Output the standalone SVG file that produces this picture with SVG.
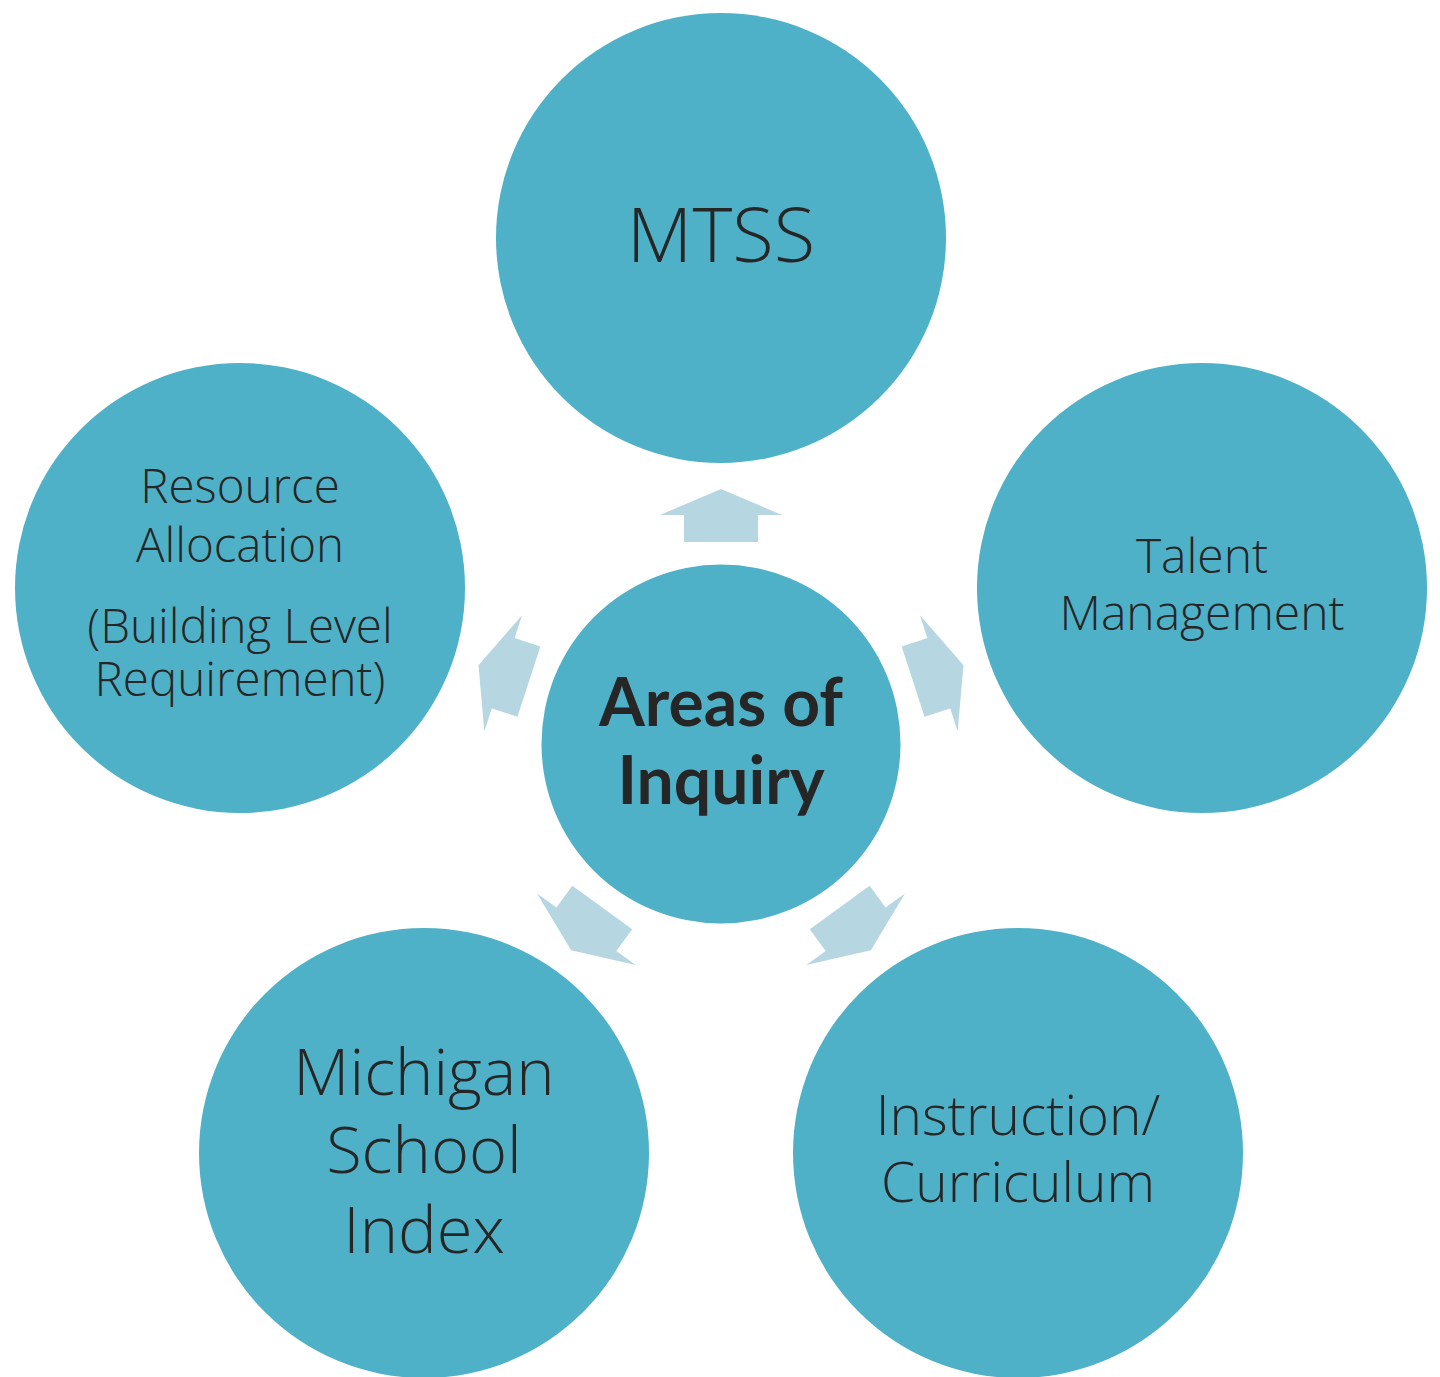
<svg xmlns="http://www.w3.org/2000/svg" width="1440" height="1377" viewBox="0 0 1440 1377">
<style>
.node{fill:#4fb1c7}
.arr{fill:#b6d7e1}
text{font-family:"Open Sans","Liberation Sans",sans-serif;font-weight:300;fill:#262626;text-anchor:middle}
.b{font-family:Lato,"Open Sans",sans-serif;font-weight:700}
</style>
<defs>
<polygon id="arrow" points="0,-26 61,0 37,0 37,27 -37,27 -37,0 -61,0"/>
</defs>
<rect width="1440" height="1377" fill="#ffffff"/>
<g id="connectors">
<use href="#arrow" class="arr" transform="rotate(0 721 744) translate(721 515)"/>
<use href="#arrow" class="arr" transform="rotate(72 721 744) translate(721 515)"/>
<use href="#arrow" class="arr" transform="rotate(144 721 744) translate(721 515)"/>
<use href="#arrow" class="arr" transform="rotate(216 721 744) translate(721 515)"/>
<use href="#arrow" class="arr" transform="rotate(288 721 744) translate(721 515)"/>
</g>
<g id="center">
<circle class="node" cx="721" cy="744" r="179.5"/>
<text class="b" x="721" y="726" font-size="66">Areas of</text>
<text class="b" x="721" y="804" font-size="66">Inquiry</text>
</g>
<g id="mtss">
<circle class="node" cx="721" cy="238" r="225"/>
<text x="721" y="262" font-size="76">MTSS</text>
</g>
<g id="talent">
<circle class="node" cx="1202" cy="588" r="225"/>
<text x="1202" y="573" font-size="48">Talent</text>
<text x="1202" y="630" font-size="48">Management</text>
</g>
<g id="instruction">
<circle class="node" cx="1018" cy="1153" r="225"/>
<text x="1018" y="1135" font-size="55">Instruction/</text>
<text x="1018" y="1202" font-size="55">Curriculum</text>
</g>
<g id="michigan">
<circle class="node" cx="424" cy="1153" r="225"/>
<text x="424" y="1095" font-size="65">Michigan</text>
<text x="424" y="1173" font-size="65">School</text>
<text x="424" y="1253" font-size="65">Index</text>
</g>
<g id="resource">
<circle class="node" cx="240" cy="588" r="225"/>
<text x="240" y="503" font-size="47.5">Resource</text>
<text x="240" y="562" font-size="47.5">Allocation</text>
<text x="240" y="643" font-size="47.5">(Building Level</text>
<text x="240" y="696" font-size="47.5">Requirement)</text>
</g>
</svg>
